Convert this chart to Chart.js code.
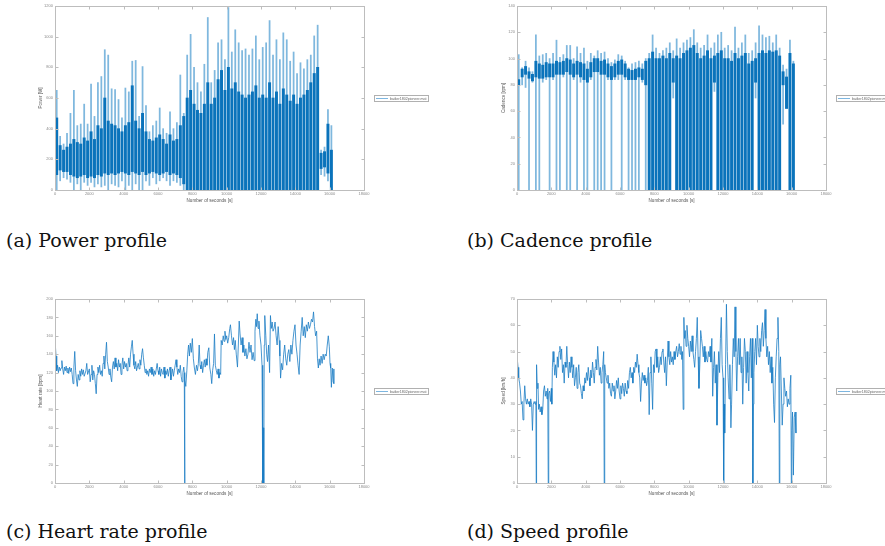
<!DOCTYPE html>
<html>
<head>
<meta charset="utf-8">
<script src="https://cdn.jsdelivr.net/npm/chart.js@4.4.1/dist/chart.umd.min.js"></script>
<style>
  html, body { margin: 0; padding: 0; background: #fff; }
  #page { position: relative; width: 885px; height: 546px; overflow: hidden; background: #fff; }
  canvas { position: absolute; }
  .cap { position: absolute; font-family: "DejaVu Serif", serif; font-size: 19px; line-height: 19px; color: #111; white-space: nowrap; }
</style>
</head>
<body>
<div id="page">
  <canvas id="cPower" width="440" height="215" style="left:0px;top:0px;"></canvas>
  <canvas id="cCadence" width="445" height="215" style="left:440px;top:0px;"></canvas>
  <canvas id="cHeart" width="440" height="215" style="left:0px;top:293px;"></canvas>
  <canvas id="cSpeed" width="445" height="215" style="left:440px;top:293px;"></canvas>
  <div class="cap" style="left:6px;top:231px;">(a) Power profile</div>
  <div class="cap" style="left:467px;top:231px;">(b) Cadence profile</div>
  <div class="cap" style="left:6px;top:522px;">(c) Heart rate profile</div>
  <div class="cap" style="left:467px;top:522px;">(d) Speed profile</div>
</div>
<script>
// ---------------- DATA ----------------
const legendLabel = "baiker1802pioneer.mat";
const secondTicks = [0, 2000, 4000, 6000, 8000, 10000, 12000, 14000, 16000, 18000];
const powerTicks = [0, 200, 400, 600, 800, 1000, 1200];
const cadenceTicks = [0, 20, 40, 60, 80, 100, 120, 140];
const heartTicks = [0, 20, 40, 60, 80, 100, 120, 140, 160, 180, 200];
const speedTicks = [0, 10, 20, 30, 40, 50, 60, 70];

// power and cadence are summarised per 200-second window
const binSeconds = 200;

const powerPeak = [650,350,300,370,500,650,420,430,560,430,
  690,480,700,740,915,880,660,655,590,470,
  665,640,840,845,480,805,550,380,420,450,
  535,400,370,510,400,440,750,500,880,1015,
  800,700,640,820,1125,700,780,960,980,850,
  1190,900,1045,960,910,920,880,920,1005,850,
  930,960,1105,880,980,850,1025,980,840,900,
  760,830,790,850,880,1005,1075,260,280,525,
  420];
const powerFloor = [0,60,80,70,50,0,40,0,50,30,
  50,20,40,20,30,0,40,30,20,60,
  0,30,0,40,0,0,60,30,80,40,
  60,80,60,30,60,50,30,0,0,0,
  0,0,0,0,0,0,0,0,0,0,
  0,0,0,0,0,0,0,0,0,0,
  0,0,0,0,0,0,0,0,0,0,
  0,0,0,0,0,0,0,100,90,60,
  0];
const powerCoreHi = [470,290,260,280,300,330,310,300,340,320,
  380,330,420,400,600,450,430,420,400,380,
  420,440,680,450,400,500,380,330,320,340,
  360,330,300,360,320,330,420,480,600,650,
  560,520,500,560,700,560,600,720,780,650,
  800,660,700,640,620,600,620,640,680,600,
  620,600,700,600,640,560,660,620,580,620,
  560,600,620,650,700,760,800,240,250,430,
  260];
const powerCoreLo = [100,130,120,120,100,90,80,90,100,80,
  90,80,100,90,110,100,110,100,110,120,
  110,100,120,110,100,120,100,110,120,110,
  100,110,120,100,110,100,80,40,0,0,
  0,0,0,0,0,0,0,0,0,0,
  0,0,0,0,0,0,0,0,0,0,
  0,0,0,0,0,0,0,0,0,0,
  0,0,0,0,0,0,0,140,150,110,
  0];

const cadencePeak = [103,93,98,93,90,118,102,103,104,100,
  104,114,101,103,110,110,100,109,104,108,
  98,104,102,106,104,105,100,97,99,103,
  102,98,93,96,97,98,96,100,104,118,
  108,104,106,108,112,106,115,108,112,114,
  116,122,112,108,110,118,108,112,118,120,
  108,110,106,124,108,112,118,104,106,112,
  125,118,116,117,112,118,108,95,92,114,
  98];
const cadenceFloor = [0,80,78,0,82,0,0,82,84,0,
  84,0,0,86,0,0,84,0,82,0,
  0,84,0,0,0,0,84,0,84,84,
  0,84,0,0,0,0,82,0,0,0,
  0,0,0,0,0,70,0,0,0,0,
  0,0,0,0,0,0,0,75,0,0,
  0,0,0,0,0,0,0,0,0,70,
  0,0,0,0,0,0,0,50,70,0,
  0];
const cadenceCoreHi = [84,92,94,90,88,98,96,95,97,96,
  96,98,97,98,100,99,96,98,97,96,
  92,97,100,100,98,99,96,94,96,98,
  99,96,92,91,92,93,92,98,100,105,
  100,100,102,100,104,100,102,100,104,106,
  108,110,104,100,102,106,100,102,104,106,
  100,100,98,104,100,102,104,96,98,100,
  104,106,104,106,105,106,102,90,86,104,
  96];
const cadenceCoreLo = [80,86,88,85,83,86,85,85,86,86,
  86,88,88,88,90,88,86,88,86,84,
  82,86,90,90,88,88,86,84,86,88,
  88,86,84,84,84,86,84,80,0,0,
  0,0,0,0,0,82,0,0,0,0,
  0,0,0,0,0,0,0,82,0,0,
  0,0,0,0,0,0,0,0,0,82,
  0,0,0,0,0,0,0,80,62,0,
  0];

// heart rate: [second, bpm]
const heartSamples = [[0,120],[20,150],[60,138],[100,122],[150,128],[200,120],[250,126],[300,122],[350,125],[400,133],
  [450,124],[500,118],[550,126],[600,122],[650,127],[700,120],[750,125],[800,119],[850,126],[900,121],
  [950,125],[1000,118],[1050,108],[1100,126],[1150,143],[1200,122],[1250,112],[1300,105],[1350,118],[1400,112],
  [1450,122],[1500,116],[1550,124],[1600,118],[1650,123],[1700,116],[1800,122],[1850,130],[1900,118],[2000,124],
  [2050,110],[2100,118],[2150,128],[2200,112],[2250,122],[2300,118],[2350,108],[2400,97],[2450,118],[2500,126],
  [2550,120],[2600,128],[2650,118],[2700,122],[2750,116],[2800,130],[2850,138],[2900,124],[2950,140],[3000,153],
  [3050,132],[3100,126],[3150,118],[3200,124],[3250,115],[3300,110],[3350,126],[3400,132],[3450,124],[3500,136],
  [3550,126],[3600,130],[3650,122],[3700,134],[3750,126],[3800,130],[3850,118],[3900,128],[3950,136],[4000,124],
  [4050,132],[4100,126],[4150,130],[4200,122],[4250,128],[4300,136],[4350,126],[4400,140],[4450,148],[4500,155],
  [4550,140],[4600,128],[4650,124],[4700,132],[4750,122],[4800,126],[4850,130],[4900,124],[4950,134],[5000,128],
  [5050,140],[5100,146],[5150,136],[5200,128],[5250,120],[5300,124],[5350,118],[5400,122],[5450,116],[5500,124],
  [5550,120],[5600,126],[5650,118],[5700,124],[5750,116],[5800,122],[5850,118],[5900,124],[5950,130],[6000,122],
  [6050,118],[6100,126],[6150,116],[6200,124],[6250,120],[6300,118],[6350,126],[6400,114],[6450,122],[6500,118],
  [6550,124],[6600,116],[6650,122],[6700,126],[6750,112],[6800,118],[6850,124],[6900,116],[6950,122],[7000,128],
  [7050,134],[7100,126],[7150,118],[7200,124],[7250,120],[7300,128],[7350,116],[7400,110],[7450,120],[7500,126],
  [7530,120],[7550,0],[7570,112],[7620,105],[7680,122],[7730,140],[7780,150],[7830,138],[7880,152],[7940,142],
  [8000,157],[8060,135],[8120,125],[8180,118],[8240,128],[8300,122],[8350,130],[8400,150],[8450,128],[8500,124],
  [8550,132],[8600,120],[8650,128],[8700,134],[8750,126],[8800,135],[8850,128],[8900,142],[8960,147],[9020,125],
  [9080,118],[9130,108],[9180,122],[9240,130],[9290,162],[9340,128],[9400,122],[9450,118],[9500,124],[9550,114],
  [9600,120],[9650,118],[9680,155],[9740,150],[9800,160],[9850,154],[9900,165],[9950,156],[10000,160],[10060,152],
  [10120,158],[10180,168],[10220,172],[10280,160],[10340,150],[10400,158],[10450,145],[10500,155],[10560,140],[10630,126],
  [10680,150],[10730,176],[10780,162],[10840,150],[10900,158],[10950,142],[11000,150],[11060,138],[11120,146],[11180,135],
  [11240,140],[11300,153],[11360,142],[11420,150],[11480,134],[11540,142],[11600,133],[11650,165],[11700,178],[11740,170],
  [11780,184],[11830,168],[11880,176],[11940,160],[12000,150],[12060,128],[12100,0],[12130,60],[12160,0],[12190,150],
  [12220,182],[12280,160],[12330,140],[12380,132],[12440,150],[12500,120],[12550,182],[12600,168],[12650,175],[12700,165],
  [12760,168],[12820,175],[12880,160],[12940,150],[13000,170],[13060,155],[13100,138],[13140,114],[13200,130],[13260,123],
  [13320,140],[13380,150],[13440,135],[13500,128],[13560,140],[13620,145],[13680,132],[13740,150],[13800,140],[13860,155],
  [13920,165],[13980,172],[14040,150],[14100,140],[14160,128],[14220,118],[14280,150],[14340,165],[14400,180],[14460,160],
  [14520,170],[14580,158],[14640,172],[14700,165],[14760,175],[14820,168],[14880,172],[14940,178],[15000,175],[15060,186],
  [15120,170],[15180,160],[15240,165],[15290,135],[15340,125],[15390,135],[15440,128],[15500,138],[15560,130],[15620,140],
  [15680,134],[15740,140],[15800,138],[15860,150],[15920,160],[15980,148],[16020,130],[16060,125],[16100,104],[16150,125],
  [16200,110],[16240,124],[16250,108]];

// speed: [second, km/h]
const speedSamples = [[0,40],[20,47],[60,44],[100,40],[150,38],[200,35],[250,30],[300,31],[350,24],[400,30],
  [450,37],[500,32],[550,30],[600,32],[650,30],[700,31],[750,29],[800,32],[850,30],[900,20],
  [950,30],[1000,31],[1050,30],[1100,31],[1120,0],[1140,45],[1180,36],[1220,38],[1260,28],[1300,30],
  [1350,27],[1400,29],[1450,26],[1500,28],[1550,35],[1600,37],[1650,33],[1700,35],[1750,32],[1790,36],
  [1820,0],[1850,34],[1900,35],[1950,31],[2000,36],[2030,30],[2060,44],[2100,50],[2150,46],[2200,41],
  [2250,45],[2300,40],[2350,48],[2400,44],[2450,50],[2500,52],[2550,47],[2600,51],[2650,42],[2700,45],
  [2750,38],[2800,46],[2850,44],[2900,52],[2950,45],[3000,40],[3050,46],[3100,42],[3150,48],[3200,44],
  [3250,40],[3300,45],[3350,37],[3400,40],[3450,44],[3500,36],[3550,42],[3600,45],[3650,38],[3700,37],
  [3750,34],[3800,32],[3850,37],[3900,35],[3950,40],[4000,38],[4050,42],[4100,39],[4150,44],[4200,40],
  [4250,37],[4300,43],[4350,40],[4400,46],[4450,42],[4500,38],[4550,44],[4600,47],[4650,43],[4700,52],
  [4750,46],[4800,41],[4850,44],[4900,38],[4950,42],[5000,45],[5050,50],[5080,0],[5110,45],[5150,42],
  [5200,40],[5250,38],[5300,41],[5350,36],[5400,38],[5450,34],[5500,33],[5550,38],[5600,35],[5650,37],
  [5700,32],[5750,35],[5800,39],[5850,36],[5900,40],[5950,35],[6000,32],[6050,37],[6100,34],[6150,38],
  [6200,36],[6250,33],[6300,38],[6350,35],[6400,34],[6450,39],[6500,36],[6550,42],[6600,44],[6650,40],
  [6700,42],[6750,38],[6800,44],[6850,42],[6900,46],[6950,44],[7000,49],[7050,45],[7100,42],[7150,40],
  [7200,31],[7250,38],[7300,42],[7350,39],[7400,41],[7450,38],[7500,40],[7550,37],[7600,39],[7650,44],
  [7700,26],[7750,42],[7800,48],[7850,38],[7900,28],[7950,45],[8000,42],[8050,50],[8100,51],[8150,44],
  [8200,48],[8250,42],[8300,44],[8350,48],[8400,45],[8450,50],[8500,51],[8550,46],[8600,42],[8650,48],
  [8700,37],[8750,46],[8800,54],[8850,48],[8900,45],[8950,50],[9000,46],[9050,48],[9100,45],[9150,50],
  [9200,47],[9250,50],[9300,52],[9350,48],[9400,50],[9450,53],[9500,49],[9550,52],[9600,47],[9640,50],
  [9680,28],[9720,63],[9760,55],[9800,58],[9850,52],[9900,60],[9950,55],[10000,52],[10050,48],[10100,54],
  [10150,50],[10200,56],[10250,50],[10300,47],[10350,44],[10400,50],[10450,55],[10500,63],[10550,48],[10600,36],
  [10650,45],[10700,58],[10750,55],[10800,52],[10850,48],[10900,52],[10950,46],[11000,50],[11050,47],[11100,46],
  [11150,50],[11200,48],[11250,52],[11300,46],[11350,55],[11400,33],[11450,44],[11500,50],[11550,38],[11600,45],
  [11650,22],[11700,40],[11750,50],[11800,42],[11850,55],[11900,63],[11950,45],[12000,40],[12040,0],[12070,30],
  [12100,19],[12150,45],[12200,68],[12250,50],[12300,40],[12350,32],[12400,45],[12460,21],[12500,30],[12550,45],
  [12600,55],[12650,48],[12700,67],[12750,50],[12800,35],[12850,48],[12900,55],[12950,45],[13000,55],[13050,42],
  [13100,48],[13150,30],[13200,44],[13250,55],[13300,50],[13350,38],[13400,50],[13450,42],[13500,35],[13550,48],
  [13600,55],[13650,40],[13700,55],[13740,0],[13770,30],[13800,42],[13850,50],[13900,55],[13950,45],[14000,60],
  [14050,52],[14100,48],[14150,55],[14200,50],[14250,58],[14300,61],[14350,52],[14400,58],[14450,66],[14500,55],
  [14550,48],[14600,52],[14650,45],[14700,50],[14750,42],[14800,48],[14850,38],[14900,44],[14950,30],[15000,23],
  [15050,40],[15100,48],[15150,55],[15200,63],[15250,50],[15280,0],[15310,45],[15350,48],[15400,35],[15450,22],
  [15500,30],[15550,40],[15600,36],[15650,33],[15700,35],[15750,29],[15800,32],[15850,30],[15900,36],[15950,41],
  [15980,0],[16010,20],[16050,27],[16100,3],[16150,25],[16200,27],[16250,19]];

// ---------------- STYLE / HELPERS ----------------
const BLUE = '#0a73bb';
const BLUE_LIGHT = 'rgba(0,114,189,0.5)';
const TICK_FONT = { family: 'Liberation Sans, Arial, sans-serif', size: 4 };
const TITLE_FONT = { family: 'Liberation Sans, Arial, sans-serif', size: 4.6 };

function spans(hi, lo) {
  return hi.map((h, i) => ({ x: i * binSeconds + binSeconds / 2, y: [lo[i], h] }));
}
function pairs(arr) { return arr.map(p => ({ x: p[0], y: p[1] })); }

const axesBox = {
  id: 'axesBox',
  afterDatasetsDraw(chart) {
    const { ctx, chartArea: a, scales: { x, y } } = chart;
    const L = Math.round(a.left) + 0.5, R = Math.round(a.right) + 0.5;
    const T = Math.round(a.top) + 0.5, B = Math.round(a.bottom) + 0.5;
    ctx.save();
    ctx.strokeStyle = '#bdbdbd';
    ctx.lineWidth = 1;
    ctx.strokeRect(L, T, R - L, B - T);
    const len = 3;
    ctx.beginPath();
    x.ticks.forEach(t => {
      const p = Math.round(x.getPixelForValue(t.value)) + 0.5;
      ctx.moveTo(p, B); ctx.lineTo(p, B - len);
      ctx.moveTo(p, T); ctx.lineTo(p, T + len);
    });
    y.ticks.forEach(t => {
      const p = Math.round(y.getPixelForValue(t.value)) + 0.5;
      ctx.moveTo(L, p); ctx.lineTo(L + len, p);
      ctx.moveTo(R, p); ctx.lineTo(R - len, p);
    });
    ctx.stroke();
    ctx.restore();
  }
};

const legendBox = {
  id: 'legendBox',
  afterDraw(chart, args, opts) {
    const { ctx } = chart;
    const ds = chart.data.datasets[0];
    ctx.save();
    ctx.fillStyle = '#fff';
    ctx.fillRect(opts.x, opts.y, opts.w, opts.h);
    ctx.strokeStyle = '#b0b0b0';
    ctx.lineWidth = 1;
    ctx.strokeRect(opts.x + 0.5, opts.y + 0.5, opts.w, opts.h);
    const mid = opts.y + opts.h / 2 + 0.5;
    ctx.strokeStyle = '#7db6e0';
    ctx.beginPath();
    ctx.moveTo(opts.x + 2, mid); ctx.lineTo(opts.x + 14, mid);
    ctx.stroke();
    ctx.fillStyle = '#666';
    ctx.font = '3.6px "Liberation Sans", Arial, sans-serif';
    ctx.textBaseline = 'middle';
    ctx.textAlign = 'left';
    ctx.fillText(ds.label, opts.x + 16, mid);
    ctx.restore();
  }
};

function makeChart(id, type, datasets, yTicks, yTitle, geom) {
  const ctx = document.getElementById(id);
  return new Chart(ctx, {
    type,
    data: { datasets },
    plugins: [axesBox, legendBox],
    options: {
      responsive: false,
      animation: false,
      devicePixelRatio: 1,
      events: [],
      layout: { padding: { left: 0, top: 6, right: geom.padRight, bottom: 0 } },
      elements: { point: { radius: 0 }, line: { tension: 0 }, bar: { borderWidth: 0 } },
      plugins: {
        legend: { display: false },
        tooltip: { enabled: false },
        legendBox: geom.legend
      },
      scales: {
        x: {
          type: 'linear', min: 0, max: 18000, offset: false,
          afterBuildTicks: s => { s.ticks = secondTicks.map(v => ({ value: v })); },
          afterFit: s => { s.height = 25; },
          grid: { display: false, drawTicks: false, offset: false },
          border: { display: false },
          ticks: { font: TICK_FONT, color: '#8a8a8a', padding: 1, maxRotation: 0, autoSkip: false,
                   callback: v => String(v) },
          title: { display: true, text: 'Number of seconds [s]', font: TITLE_FONT, color: '#555',
                   padding: { top: 0, bottom: 12 } }
        },
        y: {
          type: 'linear', min: yTicks[0], max: yTicks[yTicks.length - 1],
          afterBuildTicks: s => { s.ticks = yTicks.map(v => ({ value: v })); },
          afterFit: s => { s.width = geom.yWidth; },
          grid: { display: false, drawTicks: false },
          border: { display: false },
          ticks: { font: TICK_FONT, color: '#8a8a8a', padding: 2, autoSkip: false,
                   callback: v => String(v) },
          title: { display: true, text: yTitle, font: TITLE_FONT, color: '#555',
                   padding: { top: geom.titleX, bottom: 0 } }
        }
      }
    }
  });
}

const leftGeom = (ly) => ({ padRight: 76, yWidth: 55, titleX: 38, legend: { x: 374, y: ly, w: 54, h: 6 } });
const rightGeom = (ly) => ({ padRight: 59, yWidth: 77, titleX: 61, legend: { x: 396, y: ly, w: 54, h: 6 } });

makeChart('cPower', 'bar', [
  { label: legendLabel, data: spans(powerPeak, powerFloor), backgroundColor: BLUE_LIGHT,
    barThickness: 1.1, grouped: false, order: 2 },
  { label: legendLabel, data: spans(powerCoreHi, powerCoreLo), backgroundColor: BLUE,
    barThickness: 2.3, grouped: false, order: 1 }
], powerTicks, 'Power [W]', leftGeom(95));

makeChart('cCadence', 'bar', [
  { label: legendLabel, data: spans(cadencePeak, cadenceFloor), backgroundColor: BLUE_LIGHT,
    barThickness: 1.1, grouped: false, order: 2 },
  { label: legendLabel, data: spans(cadenceCoreHi, cadenceCoreLo), backgroundColor: BLUE,
    barThickness: 2.3, grouped: false, order: 1 }
], cadenceTicks, 'Cadence [rpm]', rightGeom(95));

makeChart('cHeart', 'line', [
  { label: legendLabel, data: pairs(heartSamples), borderColor: '#1a7cc4', borderWidth: 0.8 }
], heartTicks, 'Heart rate [bpm]', leftGeom(95));

makeChart('cSpeed', 'line', [
  { label: legendLabel, data: pairs(speedSamples), borderColor: '#1a7cc4', borderWidth: 0.8 }
], speedTicks, 'Speed [km/h]', rightGeom(95));
</script>
</body>
</html>
